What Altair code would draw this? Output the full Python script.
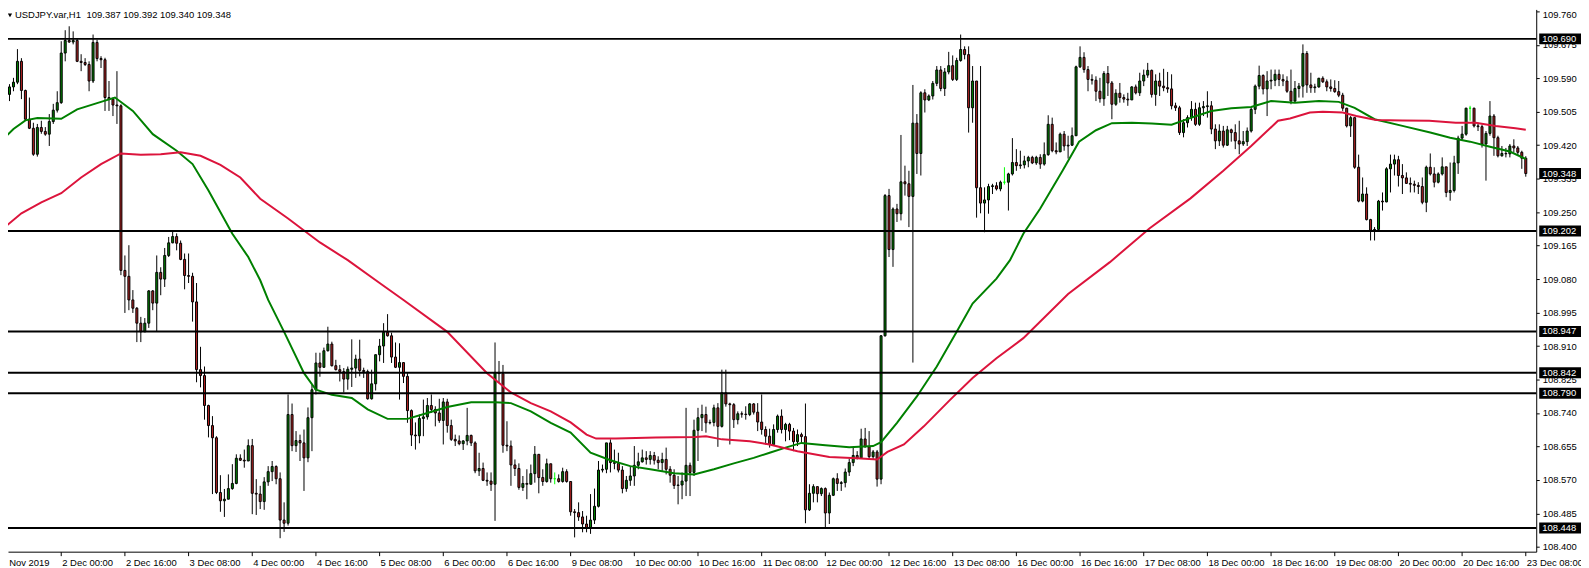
import json
import altair as alt
import pandas as pd

# ---------------- data ----------------
SYMBOL = "USDJPY.var,H1"
HEADER_OHLC = "109.387 109.392 109.340 109.348"
FIRST_DATE_LABEL = "29 Nov 2019"
FIRST_OPEN = 109.542

CLOSE = [
    109.559, 109.549, 109.568, 109.580, 109.633, 109.559, 109.486, 109.463, 109.397, 109.465, 109.455, 109.448, 109.480, 109.509, 109.528, 109.654,
    109.686, 109.682, 109.686, 109.633, 109.630, 109.625, 109.583, 109.681, 109.640, 109.637, 109.541, 109.537, 109.522, 109.520, 109.102, 109.087,
    109.027, 109.006, 108.968, 108.946, 108.968, 109.050, 109.019, 109.097, 109.080, 109.140, 109.172, 109.188, 109.171, 109.130, 109.089, 109.087,
    109.022, 108.850, 108.835, 108.759, 108.708, 108.677, 108.538, 108.517, 108.521, 108.548, 108.561, 108.625, 108.620, 108.618, 108.657, 108.536,
    108.534, 108.515, 108.565, 108.591, 108.604, 108.573, 108.468, 108.460, 108.736, 108.657, 108.670, 108.664, 108.626, 108.728, 108.799, 108.867,
    108.856, 108.898, 108.915, 108.860, 108.850, 108.845, 108.826, 108.851, 108.854, 108.877, 108.848, 108.845, 108.776, 108.814, 108.888, 108.910,
    108.945, 108.936, 108.882, 108.856, 108.868, 108.833, 108.746, 108.684, 108.682, 108.726, 108.730, 108.759, 108.749, 108.740, 108.721, 108.768,
    108.708, 108.673, 108.669, 108.662, 108.669, 108.683, 108.664, 108.593, 108.599, 108.569, 108.567, 108.559, 108.843, 108.840, 108.658, 108.656,
    108.608, 108.599, 108.551, 108.561, 108.559, 108.586, 108.635, 108.576, 108.566, 108.611, 108.573, 108.573, 108.566, 108.591, 108.566, 108.489,
    108.487, 108.476, 108.458, 108.447, 108.468, 108.503, 108.595, 108.597, 108.664, 108.614, 108.612, 108.595, 108.548, 108.569, 108.580, 108.607,
    108.616, 108.626, 108.622, 108.632, 108.620, 108.614, 108.622, 108.597, 108.582, 108.556, 108.557, 108.567, 108.607, 108.589, 108.696, 108.728,
    108.736, 108.715, 108.716, 108.753, 108.706, 108.791, 108.763, 108.761, 108.723, 108.738, 108.737, 108.736, 108.763, 108.742, 108.717, 108.698,
    108.681, 108.660, 108.698, 108.732, 108.698, 108.711, 108.694, 108.667, 108.685, 108.680, 108.494, 108.536, 108.553, 108.535, 108.548, 108.486,
    108.531, 108.573, 108.561, 108.563, 108.590, 108.614, 108.632, 108.626, 108.674, 108.654, 108.629, 108.641, 108.572, 108.936, 109.292, 109.155,
    109.258, 109.246, 109.327, 109.322, 109.290, 109.476, 109.399, 109.553, 109.535, 109.545, 109.577, 109.611, 109.564, 109.606, 109.622, 109.587,
    109.635, 109.663, 109.650, 109.515, 109.583, 109.312, 109.273, 109.281, 109.315, 109.317, 109.309, 109.326, 109.326, 109.347, 109.376, 109.368,
    109.370, 109.380, 109.389, 109.375, 109.389, 109.372, 109.396, 109.473, 109.406, 109.403, 109.448, 109.418, 109.420, 109.444, 109.619, 109.643,
    109.612, 109.587, 109.585, 109.557, 109.538, 109.602, 109.578, 109.524, 109.552, 109.541, 109.537, 109.535, 109.568, 109.553, 109.583, 109.598,
    109.610, 109.549, 109.583, 109.570, 109.566, 109.563, 109.520, 109.515, 109.452, 109.477, 109.490, 109.511, 109.473, 109.515, 109.518, 109.520,
    109.461, 109.431, 109.456, 109.420, 109.459, 109.452, 109.431, 109.423, 109.429, 109.456, 109.511, 109.570, 109.597, 109.563, 109.583, 109.585,
    109.600, 109.587, 109.583, 109.557, 109.532, 109.564, 109.570, 109.653, 109.573, 109.566, 109.568, 109.590, 109.581, 109.568, 109.564, 109.556,
    109.547, 109.514, 109.469, 109.490, 109.364, 109.278, 109.296, 109.231, 109.204, 109.206, 109.278, 109.276, 109.360, 109.372, 109.383, 109.343,
    109.337, 109.323, 109.321, 109.318, 109.315, 109.275, 109.364, 109.347, 109.326, 109.347, 109.365, 109.300, 109.305, 109.375, 109.438, 109.448,
    109.514, 109.514, 109.469, 109.467, 109.423, 109.450, 109.494, 109.439, 109.393, 109.399, 109.398, 109.418, 109.413, 109.402, 109.387, 109.348,
]

HIGH = [
    109.578, 109.570, 109.575, 109.591, 109.664, 109.641, 109.561, 109.541, 109.477, 109.474, 109.482, 109.466, 109.499, 109.525, 109.557, 109.684,
    109.712, 109.722, 109.709, 109.691, 109.651, 109.641, 109.633, 109.701, 109.688, 109.646, 109.642, 109.583, 109.541, 109.608, 109.524, 109.140,
    109.166, 109.052, 109.009, 108.984, 108.981, 109.052, 109.052, 109.140, 109.110, 109.159, 109.187, 109.202, 109.196, 109.178, 109.145, 109.145,
    109.096, 109.070, 108.908, 108.858, 108.761, 108.732, 108.681, 108.582, 108.547, 108.584, 108.610, 108.635, 108.635, 108.647, 108.673, 108.674,
    108.572, 108.555, 108.577, 108.605, 108.618, 108.607, 108.589, 108.513, 108.787, 108.764, 108.694, 108.685, 108.698, 108.754, 108.812, 108.893,
    108.893, 108.906, 108.959, 108.921, 108.875, 108.862, 108.854, 108.858, 108.927, 108.888, 108.926, 108.855, 108.850, 108.850, 108.888, 108.928,
    108.968, 108.991, 108.944, 108.919, 108.917, 108.868, 108.841, 108.749, 108.716, 108.736, 108.774, 108.778, 108.787, 108.757, 108.776, 108.778,
    108.776, 108.723, 108.685, 108.683, 108.671, 108.753, 108.685, 108.668, 108.639, 108.614, 108.589, 108.589, 108.919, 108.872, 108.862, 108.719,
    108.670, 108.622, 108.612, 108.580, 108.597, 108.609, 108.656, 108.635, 108.597, 108.624, 108.609, 108.589, 108.584, 108.601, 108.597, 108.565,
    108.496, 108.513, 108.491, 108.479, 108.534, 108.548, 108.618, 108.609, 108.664, 108.673, 108.647, 108.639, 108.605, 108.580, 108.605, 108.656,
    108.639, 108.647, 108.643, 108.643, 108.641, 108.630, 108.639, 108.652, 108.605, 108.597, 108.580, 108.589, 108.753, 108.614, 108.723, 108.753,
    108.761, 108.756, 108.723, 108.761, 108.765, 108.850, 108.850, 108.766, 108.765, 108.744, 108.744, 108.757, 108.765, 108.765, 108.765, 108.787,
    108.706, 108.700, 108.711, 108.736, 108.749, 108.715, 108.715, 108.702, 108.698, 108.690, 108.764, 108.559, 108.559, 108.551, 108.551, 108.551,
    108.538, 108.576, 108.587, 108.567, 108.599, 108.624, 108.652, 108.643, 108.700, 108.702, 108.694, 108.646, 108.646, 108.938, 109.296, 109.309,
    109.262, 109.271, 109.446, 109.368, 109.355, 109.573, 109.499, 109.557, 109.562, 109.549, 109.583, 109.621, 109.621, 109.616, 109.657, 109.648,
    109.642, 109.701, 109.671, 109.671, 109.621, 109.583, 109.621, 109.313, 109.322, 109.322, 109.326, 109.330, 109.364, 109.350, 109.438, 109.410,
    109.406, 109.393, 109.393, 109.393, 109.393, 109.397, 109.427, 109.496, 109.490, 109.427, 109.452, 109.456, 109.444, 109.465, 109.622, 109.671,
    109.656, 109.621, 109.600, 109.595, 109.591, 109.608, 109.621, 109.583, 109.562, 109.578, 109.549, 109.553, 109.570, 109.574, 109.604, 109.612,
    109.629, 109.612, 109.600, 109.604, 109.614, 109.606, 109.600, 109.528, 109.520, 109.486, 109.496, 109.532, 109.528, 109.528, 109.532, 109.557,
    109.532, 109.473, 109.473, 109.469, 109.469, 109.462, 109.473, 109.482, 109.456, 109.465, 109.515, 109.574, 109.622, 109.600, 109.608, 109.612,
    109.612, 109.612, 109.600, 109.595, 109.612, 109.583, 109.578, 109.676, 109.659, 109.604, 109.576, 109.591, 109.595, 109.587, 109.587, 109.585,
    109.583, 109.553, 109.515, 109.494, 109.490, 109.396, 109.338, 109.313, 109.233, 109.212, 109.281, 109.300, 109.364, 109.396, 109.396, 109.393,
    109.372, 109.351, 109.338, 109.330, 109.326, 109.338, 109.368, 109.399, 109.364, 109.351, 109.389, 109.365, 109.376, 109.393, 109.444, 109.469,
    109.515, 109.520, 109.515, 109.477, 109.472, 109.456, 109.532, 109.499, 109.444, 109.418, 109.413, 109.423, 109.435, 109.418, 109.406, 109.392,
]

LOW = [
    109.520, 109.532, 109.532, 109.557, 109.575, 109.537, 109.482, 109.461, 109.393, 109.391, 109.449, 109.444, 109.418, 109.474, 109.503, 109.525,
    109.633, 109.680, 109.676, 109.631, 109.608, 109.621, 109.557, 109.578, 109.633, 109.616, 109.507, 109.507, 109.494, 109.474, 109.090, 108.994,
    109.001, 108.994, 108.920, 108.920, 108.946, 108.956, 109.001, 108.946, 109.039, 109.060, 109.136, 109.171, 109.153, 109.128, 109.054, 109.070,
    108.972, 108.818, 108.805, 108.723, 108.678, 108.534, 108.534, 108.489, 108.476, 108.521, 108.545, 108.559, 108.618, 108.601, 108.626, 108.483,
    108.481, 108.496, 108.494, 108.555, 108.567, 108.559, 108.422, 108.438, 108.454, 108.643, 108.641, 108.618, 108.542, 108.615, 108.643, 108.787,
    108.832, 108.855, 108.896, 108.858, 108.848, 108.820, 108.792, 108.799, 108.806, 108.829, 108.833, 108.829, 108.774, 108.774, 108.797, 108.871,
    108.867, 108.934, 108.867, 108.854, 108.774, 108.816, 108.715, 108.656, 108.647, 108.663, 108.681, 108.723, 108.740, 108.706, 108.715, 108.660,
    108.690, 108.669, 108.656, 108.658, 108.646, 108.658, 108.656, 108.587, 108.580, 108.567, 108.555, 108.542, 108.466, 108.816, 108.639, 108.643,
    108.555, 108.580, 108.545, 108.542, 108.521, 108.559, 108.563, 108.536, 108.555, 108.563, 108.563, 108.559, 108.563, 108.563, 108.563, 108.479,
    108.424, 108.466, 108.437, 108.437, 108.433, 108.458, 108.500, 108.589, 108.587, 108.589, 108.597, 108.589, 108.536, 108.540, 108.555, 108.555,
    108.597, 108.614, 108.609, 108.609, 108.609, 108.597, 108.593, 108.584, 108.563, 108.547, 108.508, 108.521, 108.529, 108.529, 108.580, 108.618,
    108.694, 108.690, 108.711, 108.706, 108.654, 108.703, 108.756, 108.660, 108.702, 108.711, 108.728, 108.723, 108.732, 108.736, 108.694, 108.685,
    108.660, 108.652, 108.656, 108.690, 108.688, 108.668, 108.671, 108.643, 108.656, 108.664, 108.460, 108.491, 108.513, 108.513, 108.529, 108.450,
    108.458, 108.529, 108.542, 108.542, 108.551, 108.580, 108.605, 108.622, 108.626, 108.652, 108.622, 108.622, 108.553, 108.559, 108.934, 109.136,
    109.111, 109.225, 109.229, 109.292, 109.212, 108.868, 109.347, 109.343, 109.503, 109.532, 109.536, 109.570, 109.557, 109.545, 109.600, 109.583,
    109.583, 109.632, 109.638, 109.452, 109.477, 109.236, 109.247, 109.199, 109.246, 109.296, 109.305, 109.303, 109.320, 109.254, 109.343, 109.355,
    109.360, 109.361, 109.364, 109.372, 109.370, 109.360, 109.368, 109.393, 109.402, 109.397, 109.410, 109.406, 109.386, 109.418, 109.444, 109.616,
    109.604, 109.557, 109.574, 109.532, 109.528, 109.520, 109.545, 109.486, 109.520, 109.528, 109.528, 109.520, 109.537, 109.549, 109.545, 109.570,
    109.591, 109.541, 109.520, 109.545, 109.557, 109.553, 109.511, 109.507, 109.446, 109.440, 109.465, 109.482, 109.469, 109.469, 109.494, 109.490,
    109.448, 109.410, 109.418, 109.414, 109.418, 109.429, 109.410, 109.397, 109.418, 109.418, 109.452, 109.499, 109.562, 109.549, 109.494, 109.562,
    109.570, 109.570, 109.570, 109.553, 109.524, 109.528, 109.541, 109.541, 109.553, 109.553, 109.553, 109.566, 109.578, 109.557, 109.556, 109.553,
    109.542, 109.507, 109.465, 109.441, 109.360, 109.275, 109.275, 109.229, 109.178, 109.178, 109.204, 109.254, 109.275, 109.300, 109.343, 109.315,
    109.296, 109.322, 109.300, 109.300, 109.296, 109.270, 109.250, 109.343, 109.313, 109.323, 109.343, 109.288, 109.279, 109.300, 109.347, 109.431,
    109.444, 109.482, 109.465, 109.456, 109.414, 109.330, 109.444, 109.393, 109.389, 109.391, 109.389, 109.389, 109.402, 109.393, 109.360, 109.340,
]

DOJI_BARS = [139, 252, 369]

GREEN_MA_BAR = [0, 3, 6, 9, 15, 19, 25, 28.5, 33, 38, 44, 48, 52, 58, 62, 65, 67, 71, 76, 79,
                83, 88, 92, 97, 102, 107, 112, 118, 124, 128, 133, 138, 143, 148, 153, 158, 163, 169, 174, 179,
                184, 189, 193, 197, 201, 207, 213, 219, 221, 225, 230, 235, 240, 244, 250, 253.4, 256.75, 261, 266.6, 270.75,
                275, 279, 284, 289, 294, 299, 304, 309, 314, 319, 325, 331, 336, 340, 345, 352, 359, 364, 369, 374, 379, 383]
GREEN_MA = [109.431, 109.461, 109.483, 109.489, 109.487, 109.511, 109.530, 109.541, 109.507, 109.448,
            109.406, 109.372, 109.305, 109.195, 109.136, 109.077, 109.027, 108.946, 108.841, 108.799,
            108.786, 108.778, 108.749, 108.725, 108.725, 108.740, 108.755, 108.767, 108.767, 108.765,
            108.744, 108.715, 108.690, 108.639, 108.620, 108.605, 108.597, 108.587, 108.584, 108.597,
            108.612, 108.626, 108.639, 108.652, 108.664, 108.658, 108.653, 108.656, 108.666, 108.715,
            108.782, 108.858, 108.946, 109.018, 109.081, 109.128, 109.195, 109.259, 109.355, 109.429,
            109.458, 109.476, 109.477, 109.475, 109.472, 109.490, 109.507, 109.514, 109.517, 109.532,
            109.528, 109.532, 109.530, 109.515, 109.486, 109.469, 109.452, 109.439, 109.429, 109.416,
            109.404, 109.385]

RED_MA_BAR = [0, 5, 10, 15, 20, 25, 30, 35, 40, 45, 50, 55, 60, 65, 72, 80, 87, 95, 101, 112,
              122, 128, 133, 138, 143, 147, 149.4, 154.4, 164.4, 174.4, 177, 181, 188, 193, 200, 208, 215, 220, 222.6, 226.75,
              231.75, 238.4, 244, 250, 256.75, 268, 278.5, 288.5, 298.75, 307, 314, 320.75, 323.75, 328.75, 332, 337, 340.4, 345.4, 352, 358.75,
              365.4, 370.4, 375.4, 380.4, 383]
RED_MA = [109.205, 109.247, 109.275, 109.298, 109.338, 109.372, 109.399, 109.396, 109.397, 109.402,
          109.393, 109.370, 109.338, 109.284, 109.234, 109.173, 109.128, 109.070, 109.027, 108.946,
          108.841, 108.792, 108.765, 108.744, 108.716, 108.685, 108.675, 108.675, 108.678, 108.679,
          108.681, 108.673, 108.668, 108.660, 108.643, 108.628, 108.625, 108.622, 108.641, 108.660,
          108.706, 108.774, 108.829, 108.879, 108.930, 109.042, 109.123, 109.209, 109.285, 109.355,
          109.418, 109.482, 109.488, 109.503, 109.505, 109.503, 109.494, 109.484, 109.483, 109.482,
          109.477, 109.477, 109.469, 109.463, 109.459]

LEVELS = [109.690, 109.202, 108.947, 108.842, 108.790, 108.448]
LAST_PRICE = 109.348

PRICE_TICKS = [109.760, 109.675, 109.590, 109.505, 109.420, 109.335, 109.250, 109.165, 109.080,
               108.995, 108.910, 108.825, 108.740, 108.655, 108.570, 108.485, 108.400]

TIME_TICK_BARS = [15, 31, 47, 63, 79, 95, 111, 127, 143, 159, 175, 191, 207, 223, 239, 255,
                  271, 287, 303, 319, 335, 351, 367, 383]
TIME_TICK_LABELS = ["2 Dec 00:00", "2 Dec 16:00", "3 Dec 08:00", "4 Dec 00:00", "4 Dec 16:00",
                    "5 Dec 08:00", "6 Dec 00:00", "6 Dec 16:00", "9 Dec 08:00", "10 Dec 00:00",
                    "10 Dec 16:00", "11 Dec 08:00", "12 Dec 00:00", "12 Dec 16:00", "13 Dec 08:00",
                    "16 Dec 00:00", "16 Dec 16:00", "17 Dec 08:00", "18 Dec 00:00", "18 Dec 16:00",
                    "19 Dec 08:00", "20 Dec 00:00", "20 Dec 16:00", "23 Dec 08:00"]

assert len(CLOSE) == len(HIGH) == len(LOW) == 384
assert len(GREEN_MA_BAR) == len(GREEN_MA) and len(RED_MA_BAR) == len(RED_MA)

# ---------------- styling ----------------
W, H = 1536, 545
FONT = "Liberation Sans"
FS = 9.5
UP_FILL, DOWN_FILL, DOJI_COL = "#008000", "#b22222", "#00ff00"

n = len(CLOSE)
opens = [FIRST_OPEN] + CLOSE[:-1]
rows = []
for i in range(n):
    o, c = opens[i], CLOSE[i]
    if i in DOJI_BARS:
        fill, edge, wick = DOJI_COL, DOJI_COL, DOJI_COL
    elif c > o:
        fill, edge, wick = UP_FILL, "#000000", "#000000"
    else:
        fill, edge, wick = DOWN_FILL, "#000000", "#000000"
    rows.append({"i": i, "o": o, "c": c, "h": HIGH[i], "l": LOW[i],
                 "fill": fill, "edge": edge, "wick": wick})
df = pd.DataFrame(rows)
gdf = pd.DataFrame({"i": GREEN_MA_BAR, "v": GREEN_MA})
rdf = pd.DataFrame({"i": RED_MA_BAR, "v": RED_MA})
ldf = pd.DataFrame({"v": LEVELS})
bdf = pd.DataFrame({"v": LEVELS + [LAST_PRICE]})
one = pd.DataFrame({"a": [0]})

label_expr = f"{json.dumps(TIME_TICK_LABELS)}[indexof({json.dumps(TIME_TICK_BARS)}, datum.value)]"

x_scale = alt.Scale(domain=[1.625, 385.625], nice=False, zero=False, padding=0)
y_scale = alt.Scale(domain=[108.3878, 109.7648], nice=False, zero=False, padding=0)

x_axis = alt.Axis(values=TIME_TICK_BARS, labelExpr=label_expr, orient="bottom", title=None,
                  grid=False, domainColor="black", tickColor="black", tickSize=4, tickOffset=-0.5,
                  labelAlign="left", labelBaseline="top", labelPadding=2, labelOffset=1,
                  labelFont=FONT, labelFontSize=FS, labelColor="black",
                  labelOverlap=False, labelFlush=False)
y_axis = alt.Axis(values=PRICE_TICKS, format=".3f", orient="right", title=None, grid=False,
                  domainColor="black", tickColor="black", tickSize=3, labelPadding=3,
                  labelOffset={"condition": {"test": "datum.value > 109.75", "value": 3}, "value": 0},
                  labelFont=FONT, labelFontSize=FS, labelColor="black",
                  labelOverlap=False, labelFlush=False)


def X(field="i"):
    return alt.X(f"{field}:Q", scale=x_scale, axis=x_axis)


def Y(field):
    return alt.Y(f"{field}:Q", scale=y_scale, axis=y_axis)


wicks = alt.Chart(df).mark_rule(strokeWidth=1, clip=True).encode(
    x=X(), y=Y("l"), y2="h:Q", color=alt.Color("wick:N", scale=None))

bodies = alt.Chart(df).mark_bar(size=2, strokeWidth=1, clip=True).encode(
    x=X(), y=Y("o"), y2="c:Q",
    fill=alt.Fill("fill:N", scale=None), stroke=alt.Stroke("edge:N", scale=None))

green = alt.Chart(gdf).mark_line(strokeWidth=2, color="#008000", clip=True).encode(
    x=X(), y=Y("v"))
red = alt.Chart(rdf).mark_line(strokeWidth=2, color="#dc143c", clip=True).encode(
    x=X(), y=Y("v"))

levels = alt.Chart(ldf).mark_rule(strokeWidth=2, color="black").encode(y=Y("v"))

boxes = alt.Chart(bdf).transform_calculate(
    top="datum.v + 0.0139", bot="datum.v - 0.0139"
).mark_rect(color="black").encode(
    x=alt.value(1539), x2=alt.value(1581), y=Y("top"), y2="bot:Q")

box_text = alt.Chart(bdf).mark_text(align="left", baseline="middle", color="white",
                                    font=FONT, fontSize=FS).encode(
    x=alt.value(1542), y=Y("v"), text=alt.Text("v:Q", format=".3f"))

header1 = alt.Chart(one).mark_text(text=SYMBOL, align="left", baseline="top", font=FONT,
                                   fontSize=FS, color="black").encode(
    x=alt.value(7), y=alt.value(1))
header2 = alt.Chart(one).mark_text(text=HEADER_OHLC, align="left", baseline="top", font=FONT,
                                   fontSize=FS, color="black").encode(
    x=alt.value(79), y=alt.value(1))
triangle = alt.Chart(one).mark_point(shape="triangle-down", filled=True, size=18,
                                     color="black", opacity=1).encode(
    x=alt.value(2), y=alt.value(6))
first_label = alt.Chart(one).mark_text(text=FIRST_DATE_LABEL, align="left", baseline="top",
                                       font=FONT, fontSize=FS, color="black").encode(
    x=alt.value(-12), y=alt.value(551))

chart = alt.layer(
    wicks, bodies, green, red, levels, boxes, box_text, header1, header2, triangle, first_label
).properties(
    width=W, height=H,
    autosize=alt.AutoSizeParams(type="none"),
    padding={"left": 0, "top": 0, "right": 45, "bottom": 15},
    background="white",
).configure_view(stroke=None)

chart.save("out.html", embed_options={"renderer": "svg", "actions": False})
